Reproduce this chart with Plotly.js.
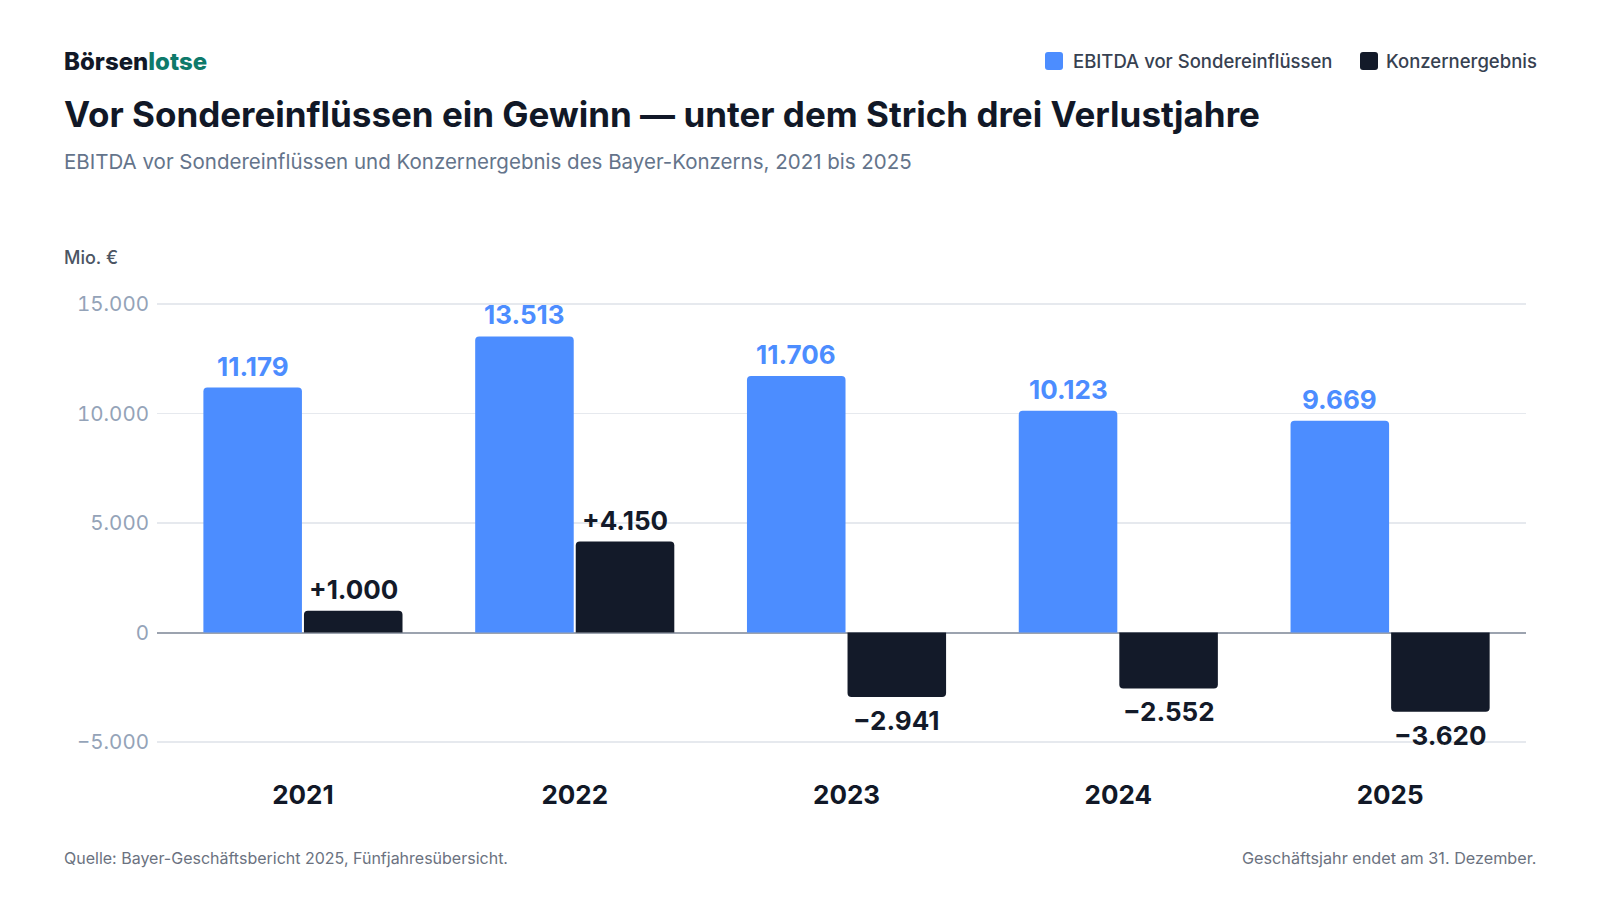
<!DOCTYPE html>
<html>
<head>
<meta charset="utf-8">
<script src="https://cdn.plot.ly/plotly-3.0.1.min.js"></script>
<style>
html,body{margin:0;padding:0;background:#fff;}
#chart{width:1600px;height:900px;}
.ytick text { font-feature-settings: "tnum"; font-variant-numeric: tabular-nums; }
</style>
</head>
<body>
<div id="chart"></div>
<script>
const years = ['2021', '2022', '2023', '2024', '2025'];
const ebitda = [11179, 13513, 11706, 10123, 9669];
const konzern = [1000, 4150, -2941, -2552, -3620];
const seriesNames = ['EBITDA vor Sondereinflüssen', 'Konzernergebnis'];
const yTicks = [-5000, 0, 5000, 10000, 15000];

const BLUE = '#4c8dff';
const DARK = '#131a29';
const FONT = 'Inter, "Noto Sans", sans-serif';
const BARGAP = 0.26, GROUPGAP = 0.02;

function fmt(v, sign) {
  const a = Math.abs(Math.round(v)).toString().replace(/\B(?=(\d{3})+(?!\d))/g, '.');
  if (v < 0) return '\u2212' + a;
  return (sign ? '+' : '') + a;
}

// plot area in pixels
const L = 157, R = 1526, T = 282, B = 764;
const px = x => (x - L) / (R - L);
const py = y => (B - y) / (B - T);

function ann(x, y, text, size, color, weight, xanchor) {
  return {
    xref: 'paper', yref: 'paper', x: px(x), y: py(y), text: text,
    showarrow: false, xanchor: xanchor || 'left', yanchor: 'middle',
    font: {family: FONT, size: size, color: color, weight: weight || 400}
  };
}

const traces = [
  {
    type: 'bar', name: seriesNames[0], x: years, y: ebitda,
    marker: {color: BLUE, cornerradius: 4}, hoverinfo: 'x+y', showlegend: false
  },
  {
    type: 'bar', name: seriesNames[1], x: years, y: konzern,
    marker: {color: DARK, cornerradius: 4}, hoverinfo: 'x+y', showlegend: false
  }
];

// value labels, placed at the bar ends through the axes
const half = (1 - BARGAP) / 4;
function valueLabels(vals, side, color, sign) {
  return vals.map((v, i) => ({
    xref: 'x', yref: 'y', x: i + side * half, y: v,
    text: fmt(v, sign), showarrow: false,
    xanchor: 'center', yanchor: v >= 0 ? 'bottom' : 'top',
    yshift: v >= 0 ? 4 : -6,
    font: {family: FONT, size: 26, color: color, weight: 700}
  }));
}

function roundRect(x0p, y0p, size, r) {
  const X0 = px(x0p), X1 = px(x0p + size), Y0 = py(y0p), Y1 = py(y0p + size);
  const rx = r / (R - L), ry = r / (B - T);
  return 'M' + (X0 + rx) + ',' + Y0 + ' L' + (X1 - rx) + ',' + Y0 +
    ' Q' + X1 + ',' + Y0 + ' ' + X1 + ',' + (Y0 - ry) +
    ' L' + X1 + ',' + (Y1 + ry) + ' Q' + X1 + ',' + Y1 + ' ' + (X1 - rx) + ',' + Y1 +
    ' L' + (X0 + rx) + ',' + Y1 + ' Q' + X0 + ',' + Y1 + ' ' + X0 + ',' + (Y1 + ry) +
    ' L' + X0 + ',' + (Y0 - ry) + ' Q' + X0 + ',' + Y0 + ' ' + (X0 + rx) + ',' + Y0 + ' Z';
}
function swatch(x0, color) {
  return {
    type: 'path', xref: 'paper', yref: 'paper', layer: 'above',
    path: roundRect(x0, 52, 18, 3), fillcolor: color, line: {width: 0}
  };
}

const annotations = [
  ann(62, 61, 'Börsen<span style="color:#0e7a6b">lotse</span>', 24, '#111827', 800),
  ann(62, 114, 'Vor Sondereinflüssen ein Gewinn — unter dem Strich drei Verlustjahre', 35, '#111827', 700),
  ann(62, 161, 'EBITDA vor Sondereinflüssen und Konzernergebnis des Bayer-Konzerns, 2021 bis 2025', 20.5, '#64748b', 400),
  ann(62, 257, 'Mio. €', 18, '#4b5563', 500),
  ann(62, 858, 'Quelle: Bayer-Geschäftsbericht 2025, Fünfjahresübersicht.', 16, '#6b7280', 400),
  ann(1538, 858, 'Geschäftsjahr endet am 31. Dezember.', 16.2, '#6b7280', 400, 'right'),
  ann(1071, 61, seriesNames[0], 18.5, '#374151', 500),
  ann(1384, 61, seriesNames[1], 18.5, '#374151', 500)
].concat(valueLabels(ebitda, -1, BLUE, false), valueLabels(konzern, 1, DARK, true));

const layout = {
  width: 1600, height: 900,
  paper_bgcolor: '#ffffff', plot_bgcolor: '#ffffff',
  margin: {l: L, r: 1600 - R, t: T, b: 900 - B, pad: 0},
  barmode: 'group', bargap: BARGAP, bargroupgap: GROUPGAP,
  separators: ',.',
  font: {family: FONT},
  showlegend: false,
  xaxis: {
    type: 'category', range: [-0.537, 4.5], fixedrange: true,
    showgrid: false, zeroline: false, showline: false, ticks: '',
    ticklabelstandoff: 13,
    tickfont: {family: FONT, size: 26, color: '#111827', weight: 700}
  },
  yaxis: {
    range: [-6000, 16000], tickvals: yTicks, separatethousands: true,
    tickformat: ',d', ticks: '', ticklabelstandoff: 7,
    showgrid: true, gridcolor: '#e6e9ee', gridwidth: 1.5,
    zeroline: true, zerolinecolor: '#9ca3af', zerolinewidth: 2,
    showline: false, fixedrange: true,
    tickfont: {family: FONT, size: 20.5, color: '#94a3b8'}
  },
  annotations: annotations,
  shapes: [swatch(1045, BLUE), swatch(1360, DARK)]
};

Plotly.newPlot('chart', traces, layout, {displayModeBar: false, staticPlot: true});
</script>
</body>
</html>
